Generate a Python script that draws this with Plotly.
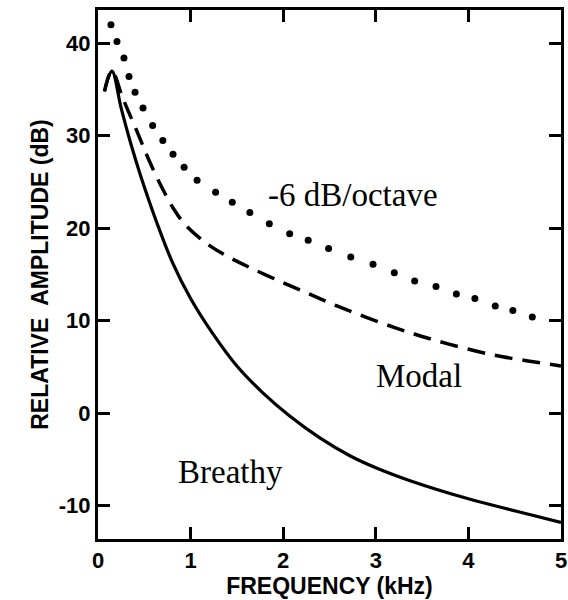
import plotly.graph_objects as go

# Spectral envelopes of the glottal source (kHz vs. dB)
breathy_khz = [0.07, 0.15, 0.25, 0.35, 0.45, 0.55, 0.65, 0.80, 1.00, 1.24, 1.50,
               1.78, 2.07, 2.40, 2.72, 3.00, 3.37, 3.98, 4.52, 5.00]
breathy_db = [34.8, 37.0, 33.0, 29.3, 26.0, 23.0, 20.2, 16.4, 12.4, 8.6, 5.1,
              2.2, -0.3, -2.7, -4.6, -5.9, -7.3, -9.2, -10.6, -11.8]

modal_khz = [0.07, 0.15, 0.27, 0.42, 0.54, 0.69, 0.83, 0.95, 1.18, 1.39, 1.65,
             1.98, 2.28, 2.58, 2.89, 3.22, 3.50, 3.78, 4.09, 4.37, 4.68, 5.00]
modal_db = [34.8, 37.0, 34.0, 30.5, 27.6, 24.4, 21.9, 20.3, 18.3, 17.0, 15.7,
            14.2, 12.9, 11.6, 10.4, 9.2, 8.3, 7.5, 6.7, 6.1, 5.6, 5.1]

# Reference slope, drawn as a row of dots
slope_khz = [0.14, 0.205, 0.28, 0.335, 0.40, 0.486, 0.59, 0.70, 0.81, 0.93, 1.07,
             1.27, 1.45, 1.64, 1.85, 2.07, 2.27, 2.49, 2.73, 2.97, 3.20, 3.42,
             3.65, 3.87, 4.07, 4.29, 4.48, 4.69]
slope_db = [42.0, 40.2, 38.4, 36.4, 34.7, 33.0, 31.1, 29.5, 28.0, 26.6, 25.2,
            23.9, 22.8, 21.7, 20.5, 19.4, 18.7, 17.8, 16.9, 16.1, 15.2, 14.3,
            13.7, 12.9, 12.4, 11.6, 11.1, 10.4]

x_ticks = [0, 1, 2, 3, 4, 5]
y_ticks = [-10, 0, 10, 20, 30, 40]
y_tick_text = ["-10", "0", "10", "20", "30", "40"]

tick_font = dict(family="Liberation Sans", size=22, color="black", weight="bold")
title_font = dict(family="Liberation Sans", size=23, color="black", weight="bold")
serif = dict(family="Liberation Serif", size=33, color="black")

fig = go.Figure()
fig.add_trace(go.Scatter(x=slope_khz, y=slope_db, mode="markers",
                         marker=dict(size=7, color="black"), name="-6 dB/octave"))
fig.add_trace(go.Scatter(x=modal_khz, y=modal_db, mode="lines",
                         line=dict(color="black", width=3.5, dash="18px,10px", shape="spline"),
                         name="Modal"))
fig.add_trace(go.Scatter(x=breathy_khz, y=breathy_db, mode="lines",
                         line=dict(color="black", width=3.2, shape="spline"),
                         name="Breathy"))

fig.add_annotation(x=2.75, y=23.6, text="-6 dB/octave", showarrow=False, font=serif)
fig.add_annotation(x=3.47, y=4.0, text="Modal", showarrow=False, font=serif)
fig.add_annotation(x=1.43, y=-6.4, text="Breathy", showarrow=False, font=serif)

axis_common = dict(showline=True, linecolor="black", linewidth=3, mirror="ticks",
                   ticks="inside", ticklen=12, tickwidth=2.5, tickcolor="black",
                   showgrid=False, zeroline=False, tickfont=tick_font, automargin=False)

fig.update_xaxes(range=[0, 5], tickvals=x_ticks, ticktext=[str(v) for v in x_ticks],
                 title=dict(text="FREQUENCY (kHz)", font=title_font, standoff=2),
                 **axis_common)
fig.update_yaxes(range=[-13.6, 43.6], tickvals=y_ticks, ticktext=y_tick_text,
                 title=dict(text="RELATIVE  AMPLITUDE (dB)", font=title_font, standoff=4),
                 **axis_common)

fig.update_layout(width=568, height=600, margin=dict(l=98, r=7, t=10, b=61),
                  paper_bgcolor="white", plot_bgcolor="white", showlegend=False)

fig.write_html("out.html")
